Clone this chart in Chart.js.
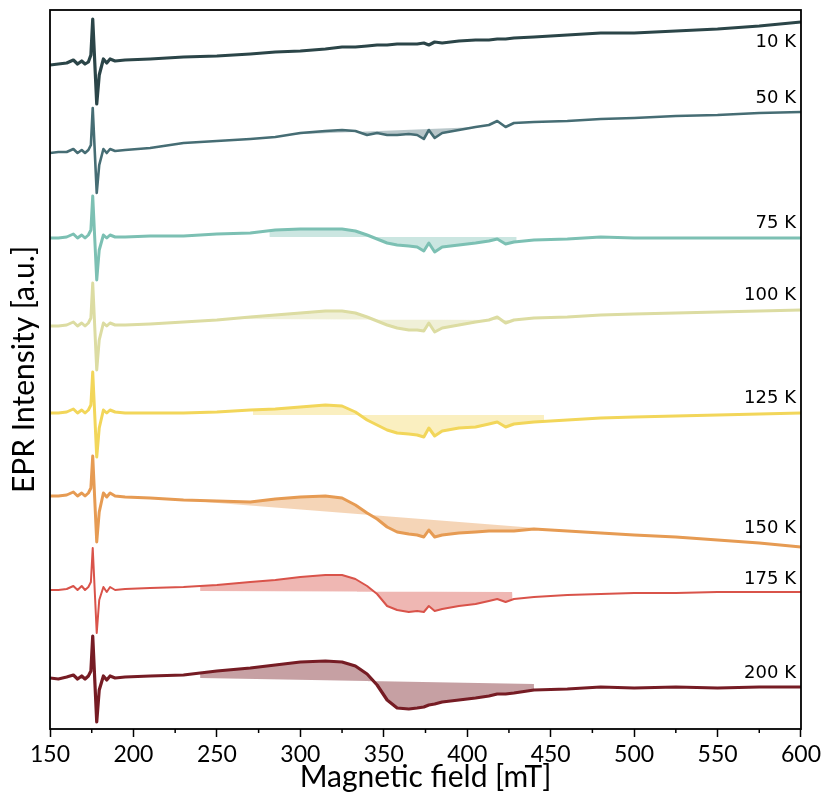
<!DOCTYPE html>
<html>
<head>
<meta charset="utf-8">
<script src="https://cdn.jsdelivr.net/npm/chart.js@4"></script>
<style>
  html, body { margin: 0; padding: 0; background: #ffffff; }
  #wrap { width: 825px; height: 799px; }
</style>
</head>
<body>
<div id="wrap"><canvas id="c" width="825" height="799"></canvas></div>
<script>
// ---------------- DATA ----------------
const temperatures = ['10 K', '50 K', '75 K', '100 K', '125 K', '150 K', '175 K', '200 K'];

// magnetic field grid [mT]
const fields = [150,155,160,164,166.5,169,171,173,174.5,175.6,178,179.5,182,184,186,189,195,210,230,250,
                270,285,300,315,325,333,340,346,352,358,365,370,374,377,380.5,385,395,405,413,418,
                423,428,440,460,480,500,525,550,575,600];

// vertical stacking offsets (a.u.)
const offsets = [664, 576, 491, 403, 316, 233, 139, 51];

// EPR signal of each spectrum relative to its offset (a.u.)
const sig10K  = [0,1,2,5,1,4,1,3,10,46,-39,-10,6,2,6,4,5,6,8,9,11,13,14,16,18,18,19,20,20,21,21,21,22,20,23,22,24,25,25,26,26,27,28,30,32,32,34,36,39,43];
const sig50K  = [0,1,1,4,0,3,0,3,8,45,-40,-12,4,0,4,2,3,5,10,12,14,16,20,22,23,22,18,20,18,18,19,18,14,23,15,20,23,26,28,32,26,30,31,32,34,35,37,38,40,41];
const sig75K  = [0,0,1,4,0,3,0,3,8,42,-42,-12,3,0,3,1,1,2,2,4,5,8,9,9,9,7,3,-1,-5,-7,-8,-9,-13,-5,-14,-9,-7,-5,-3,-1,-6,-4,-2,-1,1,0,0,0,0,0];
const sig100K = [0,0,1,4,0,3,0,3,8,43,-44,-14,3,0,3,1,1,2,4,6,9,11,13,15,15,13,9,5,1,-2,-4,-4,-5,3,-6,-2,1,4,6,9,3,6,8,9,11,12,13,14,15,16];
const sig125K = [0,0,1,4,0,3,0,3,8,41,-44,-15,3,0,3,1,0,0,0,1,3,4,6,8,7,1,-7,-12,-17,-20,-21,-22,-24,-15,-23,-18,-15,-14,-11,-9,-14,-11,-9,-7,-5,-4,-3,-2,-1,0];
const sig150K = [0,0,1,4,0,3,0,3,8,40,-46,-16,3,-1,3,0,-1,-2,-4,-5,-6,-3,-1,0,-2,-9,-17,-23,-31,-36,-38,-39,-41,-34,-41,-39,-37,-36,-35,-35,-35,-35,-33,-35,-37,-39,-41,-44,-47,-51];
const sig175K = [0,0,1,4,0,4,0,3,8,42,-43,-10,3,-2,3,0,1,2,3,5,8,10,13,15,15,11,4,-4,-16,-20,-22,-21,-22,-16,-21,-19,-16,-14,-11,-9,-12,-9,-7,-5,-4,-3,-3,-2,-2,-2];
const sig200K = [0,-1,1,3,-1,2,-1,2,7,42,-44,-12,2,-2,2,0,1,2,3,7,10,13,16,17,16,12,4,-7,-22,-30,-31,-30,-29,-27,-26,-24,-22,-20,-18,-16,-16,-15,-12,-11,-9,-10,-9,-10,-9,-9];

// integration region (linear baseline) per spectrum [mT] and baseline levels (a.u., relative)
const fillStart = [null, 295, 281.6, 257.7, 271.6, 243, 240, 240];
const fillEnd   = [null, 407, 429.5, 427, 446, 441, 427, 440];
const baseStart = [null, 18.5, 1, 7, -2, -6, -1, 0];
const baseEnd   = [null, 26, 1, 6, -2, -32, -2, -6];

// label anchors (a.u.) and x tick layout
const labelField = 597;
const labelLevels = [687, 631, 506, 434, 331, 201, 150, 56];
const xMajorStep = 50;
const xMinorStep = 25;

// ---------------- STYLE ----------------
const signals = [sig10K, sig50K, sig75K, sig100K, sig125K, sig150K, sig175K, sig200K];
const lineColors = ['#2b4548', '#466d74', '#7cc0b3', '#dcdca2', '#f2d65a', '#e69b53', '#d9534a', '#761c24'];
const fillColors = ['rgba(0,0,0,0)', 'rgba(70,109,116,0.38)', 'rgba(124,192,179,0.40)', 'rgba(220,220,162,0.42)',
                    'rgba(242,214,90,0.38)', 'rgba(230,155,83,0.42)', 'rgba(217,83,74,0.42)', 'rgba(118,28,36,0.42)'];
const lineWidths = [3.2, 2.6, 3.0, 3.0, 3.0, 3.0, 2.0, 3.2];

// ---------------- BUILD ----------------
const datasets = [];
signals.forEach((s, i) => {
  const pts = fields.map((f, k) => ({ x: f, y: offsets[i] + s[k] }));
  const lineDs = {
    label: temperatures[i],
    data: pts,
    borderColor: lineColors[i],
    backgroundColor: fillColors[i],
    borderWidth: lineWidths[i],
    pointRadius: 0,
    tension: 0,
    borderJoinStyle: 'round',
    fill: false,
    order: 1
  };
  datasets.push(lineDs);
  if (fillStart[i] !== null) {
    const baseIdx = datasets.length;
    datasets.push({
      label: temperatures[i] + ' baseline',
      data: [{ x: fillStart[i], y: offsets[i] + baseStart[i] },
             { x: fillEnd[i],   y: offsets[i] + baseEnd[i] }],
      borderWidth: 0,
      borderColor: 'rgba(0,0,0,0)',
      pointRadius: 0,
      fill: false,
      order: 3
    });
    lineDs.fill = { target: baseIdx };
  }
});

const frameAndLabels = {
  id: 'frameAndLabels',
  afterDraw(chart) {
    const { ctx, chartArea: a, scales } = chart;
    const xs = scales.x, ys = scales.y;
    ctx.save();
    // minor ticks
    ctx.strokeStyle = '#000';
    ctx.lineWidth = 1.5;
    for (let v = xs.min; v <= xs.max; v += xMinorStep) {
      if (v % xMajorStep !== 0) {
        const px = xs.getPixelForValue(v);
        ctx.beginPath();
        ctx.moveTo(px, a.bottom);
        ctx.lineTo(px, a.bottom + 4);
        ctx.stroke();
      }
    }
    // frame
    ctx.lineWidth = 1.8;
    ctx.strokeRect(a.left, a.top, a.right - a.left, a.bottom - a.top);
    // temperature labels
    ctx.fillStyle = '#000';
    ctx.font = '18px "DejaVu Sans"';
    ctx.textAlign = 'right';
    ctx.textBaseline = 'middle';
    temperatures.forEach((t, i) => {
      ctx.fillText(t, xs.getPixelForValue(labelField), ys.getPixelForValue(labelLevels[i]));
    });
    ctx.restore();
  }
};

new Chart(document.getElementById('c'), {
  type: 'line',
  data: { datasets },
  plugins: [frameAndLabels],
  options: {
    responsive: false,
    animation: false,
    layout: { padding: { top: 10, right: 23, left: 0, bottom: 0 } },
    plugins: { legend: { display: false }, tooltip: { enabled: false } },
    scales: {
      x: {
        type: 'linear',
        min: 150,
        max: 600,
        border: { display: false },
        grid: {
          display: true,
          drawOnChartArea: false,
          drawTicks: true,
          tickLength: 8,
          tickWidth: 1.5,
          tickColor: (c) => (c.tick && c.tick.value % xMajorStep === 0) ? '#000' : 'rgba(0,0,0,0)'
        },
        ticks: {
          stepSize: xMinorStep,
          autoSkip: false,
          maxRotation: 0,
          padding: 4,
          color: '#000',
          font: { family: 'Lato', size: 23 },
          callback: (v) => (v % xMajorStep === 0 ? String(v) : '')
        },
        title: {
          display: true,
          text: 'Magnetic field [mT]',
          color: '#000',
          font: { family: 'Lato', size: 30 },
          padding: { top: 4, bottom: 4 }
        },
        afterFit: (s) => { s.height = 70; }
      },
      y: {
        type: 'linear',
        min: 0,
        max: 719,
        border: { display: false },
        grid: { display: false },
        ticks: { display: false },
        title: {
          display: true,
          text: 'EPR Intensity [a.u.]',
          color: '#000',
          font: { family: 'Lato', size: 30 },
          padding: { top: 6, bottom: 0 }
        },
        afterFit: (s) => { s.width = 50; }
      }
    }
  }
});
</script>
</body>
</html>
